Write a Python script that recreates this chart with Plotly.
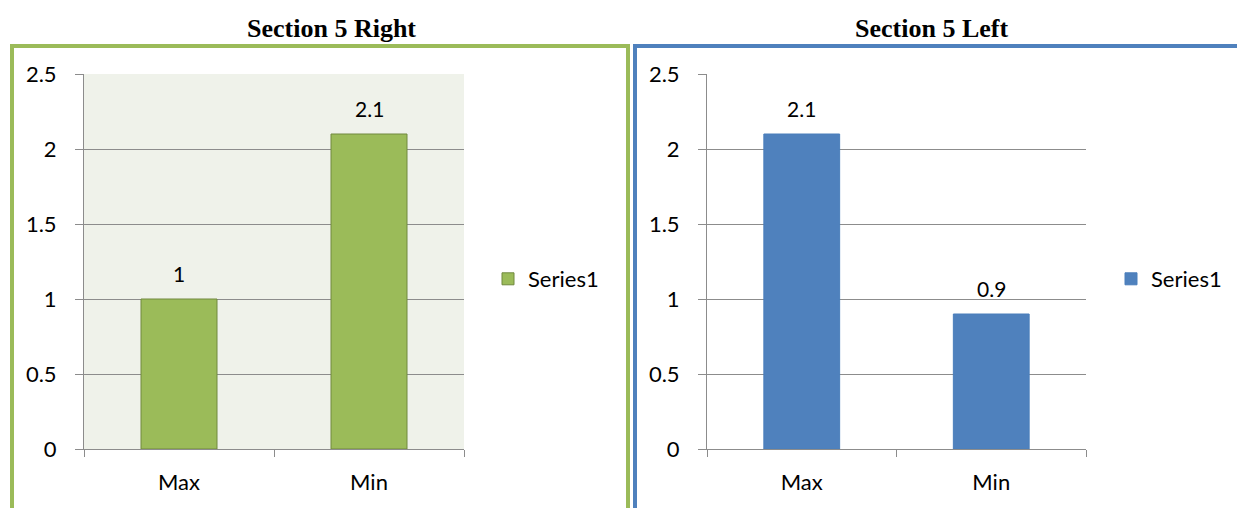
import plotly.graph_objects as go

categories = ["Max", "Min"]
right_values = [1, 2.1]
left_values = [2.1, 0.9]
series_name = "Series1"
panel_titles = ["Section 5 Right", "Section 5 Left"]
y_ticks = [0, 0.5, 1, 1.5, 2, 2.5]
y_tick_text = ["0", "0.5", "1", "1.5", "2", "2.5"]

W, H = 1237, 508
GREEN, GREEN_EDGE = "#9BBB59", "#71893F"
BLUE, BLUE_EDGE = "#4F81BD", "#4A7EBB"
GRID = "#8C8C8C"
FONT = "Lato"
FS = 22


def px(x):
    return x / W


def py(y):
    return 1 - y / H


fig = go.Figure()

fig.add_trace(go.Bar(
    x=categories, y=right_values, name=series_name, width=0.4,
    marker=dict(color=GREEN, line=dict(color=GREEN_EDGE, width=1)),
    xaxis="x", yaxis="y", legend="legend", showlegend=True,
))
fig.add_trace(go.Bar(
    x=categories, y=left_values, name=series_name, width=0.4,
    marker=dict(color=BLUE, line=dict(color=BLUE_EDGE, width=1)),
    xaxis="x2", yaxis="y2", legend="legend2", showlegend=True,
))

# value labels above the bars
annotations = []
for xa, ya, vals in (("x", "y", right_values), ("x2", "y2", left_values)):
    for c, v in zip(categories, vals):
        annotations.append(dict(
            x=c, y=v, xref=xa, yref=ya, text=f"{v:g}", showarrow=False,
            yanchor="middle", yshift=26,
            font=dict(family=FONT, size=FS - 1, color="#000"),
        ))

# panel titles
for t, cx in zip(panel_titles, (331, 931)):
    annotations.append(dict(
        x=px(cx), y=py(28), xref="paper", yref="paper", text=f"<b>{t}</b>",
        showarrow=False, xanchor="center", yanchor="middle",
        font=dict(family="Liberation Serif", size=26, color="#000"),
    ))

axis_common = dict(
    showgrid=False, showline=True, linecolor=GRID, linewidth=1,
    ticks="outside", ticklen=7, tickcolor=GRID, tickson="boundaries",
    tickfont=dict(family=FONT, size=FS, color="#000"),
    ticklabelstandoff=14, fixedrange=True, automargin=False,
)
yaxis_common = dict(
    range=[0, 2.5], tickvals=y_ticks, ticktext=y_tick_text,
    showgrid=True, gridcolor=GRID, gridwidth=1,
    showline=True, linecolor=GRID, linewidth=1, zeroline=False,
    ticks="outside", ticklen=8, tickcolor=GRID,
    tickfont=dict(family=FONT, size=FS, color="#000"),
    ticklabelstandoff=14, fixedrange=True, automargin=False,
)

ydom = [py(449), py(74)]
legend_font = dict(family=FONT, size=FS, color="#000")

fig.update_layout(
    width=W, height=H,
    margin=dict(l=0, r=0, t=0, b=0),
    paper_bgcolor="white",
    plot_bgcolor="white",
    xaxis=dict(domain=[px(84), px(464)], anchor="y", **axis_common),
    yaxis=dict(domain=ydom, anchor="x", **yaxis_common),
    xaxis2=dict(domain=[px(707), px(1086)], anchor="y2", **axis_common),
    yaxis2=dict(domain=ydom, anchor="x2", **yaxis_common),
    legend=dict(x=px(488), y=py(279), xanchor="left", yanchor="middle",
                font=legend_font, bgcolor="rgba(0,0,0,0)", itemwidth=30),
    legend2=dict(x=px(1111), y=py(279), xanchor="left", yanchor="middle",
                 font=legend_font, bgcolor="rgba(0,0,0,0)", itemwidth=30),
    annotations=annotations,
    shapes=[
        # tinted plot area of the first panel
        dict(type="rect", xref="x domain", yref="y domain", x0=0, x1=1, y0=0, y1=1,
             fillcolor="#EFF2EA", line=dict(width=0), layer="below"),
        # panel frames
        dict(type="rect", xref="paper", yref="paper",
             x0=px(12), x1=px(628), y0=py(520), y1=py(46),
             line=dict(color=GREEN, width=4), fillcolor="rgba(0,0,0,0)"),
        dict(type="rect", xref="paper", yref="paper",
             x0=px(635), x1=px(1250), y0=py(520), y1=py(46),
             line=dict(color=BLUE, width=4), fillcolor="rgba(0,0,0,0)"),
    ],
    showlegend=True,
)

fig.write_html("out.html")
